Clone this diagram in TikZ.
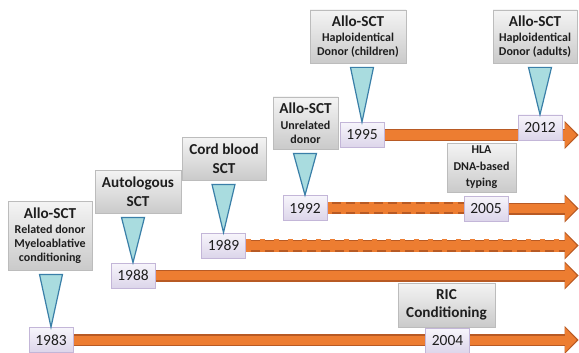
\documentclass[tikz,border=0pt]{standalone}
\usepackage{fontspec}
\setmainfont{Carlito}
\usetikzlibrary{arrows.meta,backgrounds,calc}

\definecolor{arrowfill}{HTML}{ED7D31}
\definecolor{arrowline}{HTML}{B85A24}
\definecolor{trifill}{HTML}{A9DCDF}
\definecolor{triline}{HTML}{3A7FA8}
\definecolor{boxtop}{HTML}{F4F4F4}
\definecolor{boxbot}{HTML}{CACACA}
\definecolor{boxline}{HTML}{BCBCBC}
\definecolor{yeartop}{HTML}{F7F5FB}
\definecolor{yearbot}{HTML}{DCD5EA}
\definecolor{yearline}{HTML}{C3B6D8}
\definecolor{ink}{HTML}{1E1E1E}

\newcommand{\sm}{\fontsize{12}{13.5}\selectfont}

\tikzset{
    event/.style={draw=boxline, line width=.8pt, top color=boxtop, bottom color=boxbot, text=ink,
        align=center, inner sep=1pt, font=\bfseries\fontsize{15.2}{18.5}\selectfont},
    year/.style={draw=yearline, line width=.8pt, top color=yeartop, bottom color=yearbot, text=ink,
        minimum width=44pt, minimum height=25pt, inner sep=0pt, font=\fontsize{15.5}{18}\selectfont},
    pointer/.style={draw=triline, fill=trifill, line width=1.2pt},
    bar/.style={draw=arrowline, line width=12pt, postaction={draw=arrowfill, line width=8pt}},
    timeline/.style={draw=arrowline, line width=12pt, -{Triangle[width=28pt,length=14pt,line width=0pt]},
        postaction={draw=arrowfill, line width=9pt, shorten >=1.8pt, -{Triangle[width=24pt,length=11.5pt,line width=0pt]}}},
    dashes/.style={postaction={draw=arrowfill, line width=12.5pt, -, dash pattern=on 5pt off 9pt, shorten >=#1},
        postaction={draw=arrowfill, line width=8pt, -, shorten >=#1}},
    dashes/.default=0pt,
}

\begin{document}
\begin{tikzpicture}[x=1pt,y=-1pt]
    \useasboundingbox (0,0) rectangle (579,353);
    % milestones
    \node[event, minimum width=84pt, minimum height=69pt] (g1983) at (50,235.5) {Allo-SCT\\[-3pt]\sm Related donor\\[-4.5pt]\sm Myeloablative\\[-4.5pt]\sm conditioning};
    \node[event, minimum width=86pt, minimum height=43pt] (g1988) at (138,191.5) {Autologous\\SCT};
    \node[event, minimum width=84pt, minimum height=43pt] (g1989) at (224,158.5) {Cord blood\\SCT};
    \node[event, minimum width=65pt, minimum height=52pt] (g1992) at (305.5,123) {Allo-SCT\\[-3pt]\sm Unrelated\\[-4.5pt]\sm donor};
    \node[event, minimum width=96pt, minimum height=53pt] (g1995) at (358,36.5) {Allo-SCT\\[-3pt]\sm Haploidentical\\[-4.5pt]\sm Donor (children)};
    \node[event, minimum width=84pt, minimum height=53pt] (g2012) at (535,36.5) {Allo-SCT\\[-3pt]\sm Haploidentical\\[-4.5pt]\sm Donor (adults)};
    \node[event, minimum width=69pt, minimum height=49pt] (g2005) at (481.5,167.5) {\sm HLA\\[-2pt]\sm DNA-based\\[-2pt]\sm typing};
    \node[event, minimum width=97pt, minimum height=44pt] (g2004) at (446.5,305) {RIC\\Conditioning};
    % years
    \node[year] (y1983) at (51,340) {1983};
    \node[year] (y1988) at (133,275.5) {1988};
    \node[year] (y1989) at (223.5,245.5) {1989};
    \node[year] (y1992) at (305,208) {1992};
    \node[year] (y1995) at (362,135) {1995};
    \node[year] (y2004) at (447.5,341) {2004};
    \node[year] (y2005) at (486,208.5) {2005};
    \node[year] (y2012) at (540,127.5) {2012};
    \coordinate (tip) at (578.5,0);
    % time lines
    \begin{pgfonlayer}{background}
        \draw[timeline] (y1983.east) -- (y1983 -| tip);
        \draw[timeline] (y1988.east) -- (y1988 -| tip);
        \draw[timeline, dashes=15pt] (y1989.east) -- (y1989 -| tip);
        \draw[bar, dashes] (y1992.east) -- (y2005.west |- y1992);
        \draw[timeline] (y2005.east) -- (y2005 -| tip);
        \draw[timeline] (y1995.east) -- (y1995 -| tip);
    \end{pgfonlayer}
    % pointers
    \foreach \g/\y in {g1983/y1983, g1988/y1988, g1989/y1989, g1992/y1992, g1995/y1995, g2012/y2012}
        \draw[pointer] ($(\y.north |- \g.south)+(-11.5,4)$) -- ++(23,0) -- (\y.north) -- cycle;
\end{tikzpicture}
\end{document}
